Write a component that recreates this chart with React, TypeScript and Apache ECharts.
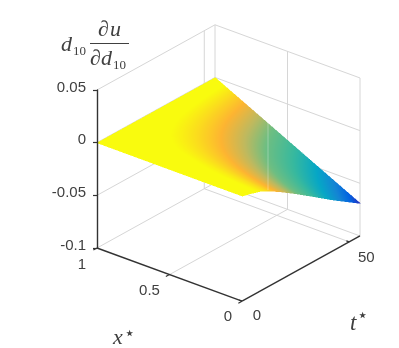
import React, { useEffect, useRef } from "react";
import * as echarts from "echarts";

const xValues = [0, 0.25, 0.5, 0.75, 1];
const tValues = [0, 3.7, 8.4, 12.3, 17.7, 23.9, 31.7, 42.4, 55];
// rows follow tValues, columns follow xValues
const zRow0 = [0, 0, 0, 0, 0];
const zRow1 = [-0.002, -0.0015, -0.001, -0.0005, 0];
const zRow2 = [-0.005, -0.0038, -0.0025, -0.0012, 0];
const zRow3 = [-0.009, -0.0068, -0.0045, -0.0022, 0];
const zRow4 = [-0.0159, -0.0119, -0.008, -0.004, 0];
const zRow5 = [-0.0244, -0.0183, -0.0122, -0.0061, 0];
const zRow6 = [-0.0357, -0.0268, -0.0178, -0.0089, 0];
const zRow7 = [-0.0515, -0.0386, -0.0258, -0.0129, 0];
const zRow8 = [-0.0689, -0.0517, -0.0345, -0.0172, 0];
const zMatrix = [zRow0, zRow1, zRow2, zRow3, zRow4, zRow5, zRow6, zRow7, zRow8];

const xTicks = [0, 0.5, 1];
const tTicks = [0, 50];
const zTicks = [-0.05, 0];
const zLabels: Record<string, string> = { "-0.1": "-0.1", "-0.05": "-0.05", "0": "0", "0.05": "0.05" };

const T_MAX = 55;
const Z_MIN = -0.1;
const Z_MAX = 0.05;
const colorStops = [0, 0.08, 0.18, 0.3, 0.45, 0.6, 0.7, 0.8, 0.94, 1];
const colorValues = [
  [40, 50, 190], [3, 99, 225], [20, 133, 212], [6, 167, 198], [56, 185, 158],
  [110, 190, 130], [190, 185, 95], [253, 180, 50], [249, 251, 14], [249, 251, 14],
];

const GRID_COLOR = "#d6d6d6";
const AXIS_COLOR = "#333333";
const TEXT_COLOR = "#404040";
const SANS = "'Liberation Sans', Arial, sans-serif";
const SERIF = "'Liberation Serif', serif";
const PAGE_W = 399;
const PAGE_H = 348;

function colorOf(z: number) {
  const v = Math.max(0, Math.min(1, (z + 0.0689) / 0.0689));
  let i = 0;
  while (i < colorStops.length - 2 && v > colorStops[i + 1]) i++;
  const f = (v - colorStops[i]) / (colorStops[i + 1] - colorStops[i]);
  return colorValues[i].map((a, k) => Math.round(a + (colorValues[i + 1][k] - a) * f));
}

// oblique 3D view expressed in the hidden x axis and the visible z axis
function project(api: any, x: number, t: number, z: number) {
  const depth = (1 - x) * 145 + (t / T_MAX) * 118;
  const zEq = z - ((1 - x) * 53 - (t / T_MAX) * 65) / 1050;
  return api.coord([depth, zEq]);
}

function line(api: any, a: number[], b: number[], color: string, width: number) {
  const p = project(api, a[0], a[1], a[2]);
  const q = project(api, b[0], b[1], b[2]);
  return {
    type: "line",
    shape: { x1: p[0], y1: p[1], x2: q[0], y2: q[1] },
    style: { stroke: color, lineWidth: width },
    silent: true,
  };
}

function renderBox(_: any, api: any) {
  const c: any[] = [];
  const g = (a: number[], b: number[]) => c.push(line(api, a, b, GRID_COLOR, 1));
  [Z_MIN, ...zTicks, Z_MAX].forEach((z) => {
    g([1, 0, z], [1, T_MAX, z]);
    g([1, T_MAX, z], [0, T_MAX, z]);
  });
  g([1, T_MAX, Z_MIN], [1, T_MAX, Z_MAX]);
  g([0, T_MAX, Z_MIN], [0, T_MAX, Z_MAX]);
  xTicks.filter((x) => x > 0 && x < 1).forEach((x) => {
    g([x, 0, Z_MIN], [x, T_MAX, Z_MIN]);
    g([x, T_MAX, Z_MIN], [x, T_MAX, Z_MAX]);
  });
  tTicks.filter((t) => t > 0).forEach((t) => {
    g([0, t, Z_MIN], [1, t, Z_MIN]);
    g([1, t, Z_MIN], [1, t, Z_MAX]);
  });
  return { type: "group", children: c };
}

// the interpolated surface is painted as a picture, sampled through the chart's own scales
function renderSurface(_: any, api: any) {
  const scale = 2;
  const canvas = document.createElement("canvas");
  canvas.width = PAGE_W * scale;
  canvas.height = PAGE_H * scale;
  const ctx = canvas.getContext("2d")!;
  const img = ctx.createImageData(canvas.width, canvas.height);
  const o = project(api, 1, 0, 0);
  const ex = project(api, 0, 0, 0);
  const et = project(api, 1, T_MAX, 0);
  const ez = project(api, 1, 0, 0.01);
  const lut: number[][] = [];
  for (let k = 0; k <= 1000; k++) lut.push(colorOf(-0.0689 * (1 - k / 1000)));
  const stepsT = 120;
  const stepsX = 300;
  for (let i = 0; i < tValues.length - 1; i++) {
    for (let j = 0; j < xValues.length - 1; j++) {
      const z00 = zMatrix[i][j], z01 = zMatrix[i][j + 1], z10 = zMatrix[i + 1][j], z11 = zMatrix[i + 1][j + 1];
      for (let a = 0; a <= stepsT; a++) {
        const u = a / stepsT;
        const t = tValues[i] + (tValues[i + 1] - tValues[i]) * u;
        for (let b = 0; b <= stepsX; b++) {
          const v = b / stepsX;
          const x = xValues[j] + (xValues[j + 1] - xValues[j]) * v;
          const z = z00 * (1 - u) * (1 - v) + z01 * (1 - u) * v + z10 * u * (1 - v) + z11 * u * v;
          const fx = 1 - x, ft = t / T_MAX, fz = z / 0.01;
          const px = o[0] + (ex[0] - o[0]) * fx + (et[0] - o[0]) * ft;
          const py = o[1] + (ex[1] - o[1]) * fx + (et[1] - o[1]) * ft + (ez[1] - o[1]) * fz;
          const ix = Math.round(px * scale), iy = Math.round(py * scale);
          if (ix < 0 || iy < 0 || ix >= canvas.width || iy >= canvas.height) continue;
          const col = lut[Math.max(0, Math.min(1000, Math.round((1 + z / 0.0689) * 1000)))];
          const p = (iy * canvas.width + ix) * 4;
          img.data[p] = col[0];
          img.data[p + 1] = col[1];
          img.data[p + 2] = col[2];
          img.data[p + 3] = 255;
        }
      }
    }
  }
  ctx.putImageData(img, 0, 0);
  return {
    type: "image",
    silent: true,
    style: { image: canvas.toDataURL("image/png"), x: 0, y: 0, width: PAGE_W, height: PAGE_H },
  };
}

function renderAxes(_: any, api: any) {
  const c: any[] = [];
  c.push(line(api, [1, 0, Z_MIN], [0, 0, Z_MIN], AXIS_COLOR, 1.4));
  c.push(line(api, [0, 0, Z_MIN], [0, T_MAX, Z_MIN], AXIS_COLOR, 1.4));
  xTicks.forEach((x) => c.push(line(api, [x, 0, Z_MIN], [x, -1.7, Z_MIN], AXIS_COLOR, 1.2)));
  tTicks.forEach((t) => c.push(line(api, [0, t, Z_MIN], [0.02, t, Z_MIN], AXIS_COLOR, 1.2)));
  const label = (x: number, t: number, text: string, dx: number, dy: number) => {
    const p = project(api, x, t, Z_MIN);
    c.push({
      type: "text",
      x: p[0] + dx,
      y: p[1] + dy,
      style: { text, fill: TEXT_COLOR, font: `15px ${SANS}`, align: "center", verticalAlign: "middle" },
      silent: true,
    });
  };
  xTicks.forEach((x) => {
    const text = String(x);
    if (x === 1) label(x, 0, text, -15, 15);
    else if (x === 0) label(x, 0, text, -14, 14);
    else label(x, 0, text, -20, 15);
  });
  tTicks.forEach((t) => label(0, t, String(t), t === 0 ? 15 : 17, t === 0 ? 13 : 15));
  return { type: "group", children: c };
}

// y is the baseline of the text
const serifText = (text: string, x: number, y: number, size: number, italic = true) => ({
  type: "text",
  x,
  y: y + size * 0.22,
  silent: true,
  style: {
    text,
    fill: TEXT_COLOR,
    font: `${italic ? "italic " : ""}${size}px ${SERIF}`,
    align: "left",
    verticalAlign: "bottom",
  },
});

export default function App() {
  const ref = useRef<HTMLDivElement>(null);
  useEffect(() => {
    document.body.style.margin = "0";
    const chart = echarts.init(ref.current!, undefined, { renderer: "svg" });
    const common = { type: "custom", coordinateSystem: "cartesian2d", data: [[0, 0]], clip: false, silent: true, encode: { x: 0, y: 1 } };
    chart.setOption({
      animation: false,
      backgroundColor: "#ffffff",
      grid: { left: 97, right: 39, top: 90, bottom: 100 },
      xAxis: { type: "value", min: 0, max: 263, show: false },
      yAxis: {
        type: "value",
        min: Z_MIN,
        max: Z_MAX,
        interval: 0.05,
        z: 5,
        splitLine: { show: false },
        axisLine: { show: true, lineStyle: { color: AXIS_COLOR, width: 1.4 } },
        axisTick: { show: true, length: 4, lineStyle: { color: AXIS_COLOR, width: 1.2 } },
        axisLabel: {
          margin: 11,
          color: TEXT_COLOR,
          fontFamily: SANS,
          fontSize: 15,
          verticalAlign: "bottom",
          lineHeight: 8,
          formatter: (v: number) => zLabels[String(Math.round(v * 100) / 100)] ?? String(v),
        },
      },
      series: [
        { ...common, z: 1, renderItem: renderBox },
        { ...common, z: 2, renderItem: renderSurface },
        { ...common, z: 3, renderItem: renderAxes },
      ],
      graphic: [
        serifText("d", 61, 50, 22),
        serifText("10", 73, 54, 13, false),
        serifText("∂", 98, 35, 22),
        serifText("u", 110, 35, 22),
        { type: "line", silent: true, shape: { x1: 90, y1: 43.5, x2: 129, y2: 43.5 }, style: { stroke: TEXT_COLOR, lineWidth: 1 } },
        serifText("∂", 90, 64, 22),
        serifText("d", 101, 64, 22),
        serifText("10", 113, 68, 13, false),
        serifText("x", 113, 343, 22),
        serifText("⋆", 124, 338, 18, false),
        serifText("t", 350, 329, 23),
        serifText("⋆", 357, 320, 18, false),
        { type: "line", silent: true, z: 10, shape: { x1: 268, y1: 123, x2: 268, y2: 190 }, style: { stroke: "rgba(255,255,255,0.3)", lineWidth: 1 } },
      ],
    });
    return () => chart.dispose();
  }, []);
  return <div ref={ref} style={{ width: PAGE_W, height: PAGE_H, filter: "blur(0.4px)" }} />;
}
